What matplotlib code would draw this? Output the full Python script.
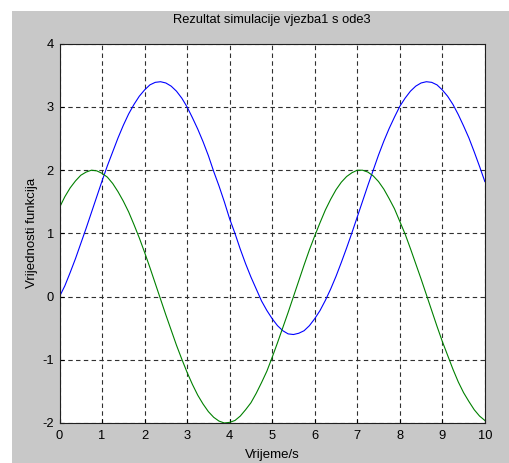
import matplotlib
matplotlib.use('Agg')
import matplotlib.pyplot as plt
from matplotlib.patches import Rectangle

# values, every 0.125 s
t = [0.0, 0.125, 0.25, 0.375, 0.5, 0.625, 0.75, 0.875, 1.0, 1.125, 1.25, 1.375,
     1.5, 1.625, 1.75, 1.875, 2.0, 2.125, 2.25, 2.375, 2.5, 2.625, 2.75, 2.875,
     3.0, 3.125, 3.25, 3.375, 3.5, 3.625, 3.75, 3.875, 4.0, 4.125, 4.25, 4.375,
     4.5, 4.625, 4.75, 4.875, 5.0, 5.125, 5.25, 5.375, 5.5, 5.625, 5.75, 5.875,
     6.0, 6.125, 6.25, 6.375, 6.5, 6.625, 6.75, 6.875, 7.0, 7.125, 7.25, 7.375,
     7.5, 7.625, 7.75, 7.875, 8.0, 8.125, 8.25, 8.375, 8.5, 8.625, 8.75, 8.875,
     9.0, 9.125, 9.25, 9.375, 9.5, 9.625, 9.75, 9.875, 10.0]
blue = [0.0, 0.17, 0.38, 0.60, 0.84, 1.08, 1.33, 1.58, 1.83, 2.07, 2.29, 2.51,
        2.71, 2.89, 3.04, 3.17, 3.27, 3.35, 3.39, 3.40, 3.38, 3.33, 3.25, 3.14,
        3.00, 2.83, 2.65, 2.45, 2.23, 1.98, 1.75, 1.50, 1.23, 1.00, 0.75, 0.52,
        0.31, 0.12, -0.07, -0.22, -0.35, -0.46, -0.54, -0.59, -0.60, -0.58, -0.54, -0.46,
        -0.35, -0.22, -0.06, 0.12, 0.32, 0.54, 0.77, 1.01, 1.26, 1.51, 1.76, 2.00,
        2.24, 2.46, 2.66, 2.84, 3.01, 3.14, 3.25, 3.33, 3.38, 3.40, 3.39, 3.35,
        3.27, 3.17, 3.04, 2.88, 2.70, 2.51, 2.29, 2.06, 1.82]
green = [1.41, 1.58, 1.72, 1.83, 1.92, 1.97, 2.00, 1.99, 1.95, 1.89, 1.79, 1.66,
         1.51, 1.34, 1.14, 0.93, 0.70, 0.46, 0.21, -0.04, -0.29, -0.53, -0.77, -0.99,
         -1.20, -1.39, -1.56, -1.70, -1.82, -1.91, -1.97, -2.00, -1.99, -1.96, -1.89, -1.79,
         -1.68, -1.53, -1.36, -1.18, -0.96, -0.73, -0.49, -0.25, 0.00, 0.25, 0.50, 0.74,
         0.96, 1.17, 1.37, 1.54, 1.69, 1.81, 1.90, 1.96, 2.00, 2.00, 1.97, 1.91,
         1.82, 1.70, 1.55, 1.39, 1.19, 0.99, 0.76, 0.52, 0.28, 0.03, -0.22, -0.47,
         -0.71, -0.93, -1.15, -1.35, -1.52, -1.66, -1.79, -1.89, -1.96]

plt.rcParams['font.family'] = ['Liberation Sans', 'DejaVu Sans']
plt.rcParams['axes.unicode_minus'] = False

fig = plt.figure(figsize=(5.1, 4.63), dpi=100)
fig.patch.set_facecolor('white')
fig.patches.append(Rectangle((12 / 510, 0), 1, 1 - 11 / 463, transform=fig.transFigure,
                             facecolor='#c8c8c8', edgecolor='none', zorder=-10))

ax = fig.add_axes([0.1167, 0.0864, 0.834, 0.819])
ax.set_facecolor('white')
ax.plot(t, blue, color='#0000ff', linewidth=0.8)
ax.plot(t, green, color='#008000', linewidth=0.8)
ax.set_xlim(0, 10)
ax.set_ylim(-2, 4)
ax.set_xticks(range(0, 11))
ax.set_yticks(range(-2, 5))
ax.grid(True, color='#303030', linestyle=(0, (4, 3)), linewidth=0.8)
ax.tick_params(direction='in', length=3, labelsize=9.3, colors='black', pad=5)
ax.tick_params(axis='y', pad=4)
for s in ax.spines.values():
    s.set_linewidth(0.8)
    s.set_color('#202020')
ax.set_title('Rezultat simulacije vjezba1 s ode3', fontsize=9.3, pad=15)
ax.set_xlabel('Vrijeme/s', fontsize=9.5, labelpad=5)
ax.set_ylabel('Vrijednosti funkcija', fontsize=9.5, labelpad=3)

fig.savefig('out.png', dpi=100, facecolor=fig.get_facecolor())
